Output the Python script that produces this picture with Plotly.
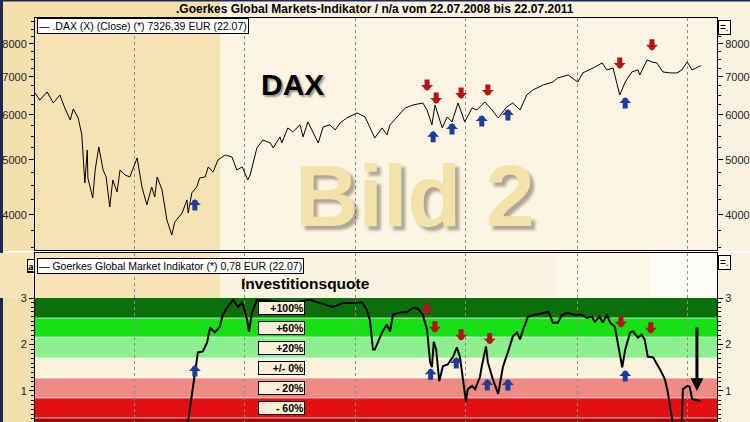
import math
import plotly.graph_objects as go

# ---------------- data ----------------
dax_dates = [
    "2008-07-22", "2008-07-30", "2008-08-11", "2008-08-21", "2008-09-01", "2008-09-09",
    "2008-09-18", "2008-09-23", "2008-10-01", "2008-10-07", "2008-10-12", "2008-10-16",
    "2008-10-17", "2008-10-25", "2008-10-29", "2008-11-04", "2008-11-11", "2008-11-16",
    "2008-11-22", "2008-11-27", "2008-12-04", "2008-12-09", "2008-12-17", "2008-12-25",
    "2009-01-06", "2009-01-14", "2009-01-22", "2009-01-30", "2009-02-04", "2009-02-08",
    "2009-02-16", "2009-02-24", "2009-03-04", "2009-03-09", "2009-03-21", "2009-03-29",
    "2009-03-31", "2009-04-06", "2009-04-14", "2009-04-19", "2009-04-28", "2009-05-03",
    "2009-05-11", "2009-05-19", "2009-05-31", "2009-06-11", "2009-06-19", "2009-06-28",
    "2009-07-07", "2009-07-11", "2009-07-22", "2009-08-01", "2009-08-13", "2009-08-18",
    "2009-08-29", "2009-09-01", "2009-09-11", "2009-09-19", "2009-10-01", "2009-10-06",
    "2009-10-14", "2009-10-22", "2009-10-31", "2009-11-08", "2009-11-19", "2009-11-28",
    "2009-12-06", "2009-12-17", "2010-01-03", "2010-01-16", "2010-01-24", "2010-02-01",
    "2010-02-13", "2010-02-21", "2010-02-26", "2010-03-10", "2010-03-23", "2010-04-05",
    "2010-04-21", "2010-04-28", "2010-05-06", "2010-05-11", "2010-05-23", "2010-05-31",
    "2010-06-08", "2010-06-18", "2010-06-29", "2010-07-11", "2010-07-19", "2010-08-01",
    "2010-08-13", "2010-08-23", "2010-09-06", "2010-09-16", "2010-09-28", "2010-10-09",
    "2010-10-19", "2010-11-05", "2010-11-21", "2010-11-29", "2010-12-16", "2011-01-01",
    "2011-01-09", "2011-01-26", "2011-02-10", "2011-02-18", "2011-02-28", "2011-03-11",
    "2011-03-20", "2011-03-31", "2011-04-10", "2011-04-13", "2011-04-25", "2011-05-03",
    "2011-05-11", "2011-05-21", "2011-06-02", "2011-06-13", "2011-06-21", "2011-06-30",
    "2011-07-08", "2011-07-22",
]
dax_values = [
    6559, 6375, 6586, 6298, 6506, 6172,
    5880, 6147, 5928, 5534, 4554, 5205,
    4647, 4286, 4801, 5270, 4801, 4666,
    4131, 4610, 4391, 4801, 4704, 4666,
    5040, 4481, 4165, 4481, 4303, 4666,
    4427, 3919, 3688, 3888, 4032, 4251,
    4032, 4374, 4481, 4647, 4666, 4859,
    4762, 4999, 5101, 5060, 4801, 4859,
    4610, 4704, 5248, 5421, 5355, 5248,
    5490, 5355, 5693, 5602, 5763, 5490,
    5833, 5602, 5355, 5716, 5763, 5647,
    5810, 5928, 6049, 5952, 5693, 5467,
    5693, 5534, 5763, 5952, 6172, 6247,
    6298, 6122, 5763, 6247, 5693, 5952,
    5833, 6298, 5833, 6172, 6122, 6323,
    6122, 5928, 6197, 6298, 6122, 6506,
    6639, 6774, 6857, 6970, 7056, 6857,
    7114, 7258, 7407, 7200, 7258, 6506,
    6857, 7143, 7200, 7056, 7497, 7437,
    7407, 7143, 7114, 7114, 7200, 7437,
    7200, 7326.39,
]

ind_dates = [
    "2008-07-22", "2009-03-27", "2009-03-31", "2009-04-11", "2009-04-16", "2009-04-24",
    "2009-05-01", "2009-05-06", "2009-05-14", "2009-05-22", "2009-05-27", "2009-06-04",
    "2009-06-13", "2009-06-21", "2009-06-28", "2009-07-06", "2009-07-09", "2009-07-14",
    "2009-07-22", "2009-08-13", "2009-09-14", "2009-10-17", "2009-11-03", "2009-11-24",
    "2009-12-11", "2009-12-27", "2010-01-11", "2010-01-19", "2010-01-24", "2010-01-29",
    "2010-02-01", "2010-02-13", "2010-02-21", "2010-02-26", "2010-03-03", "2010-03-11",
    "2010-03-26", "2010-04-05", "2010-04-13", "2010-04-21", "2010-04-28", "2010-05-03",
    "2010-05-06", "2010-05-09", "2010-05-13", "2010-05-18", "2010-05-24", "2010-06-01",
    "2010-06-10", "2010-06-16", "2010-06-21", "2010-06-26", "2010-07-01", "2010-07-04",
    "2010-07-11", "2010-07-16", "2010-07-24", "2010-07-27", "2010-08-03", "2010-08-06",
    "2010-08-14", "2010-08-23", "2010-08-31", "2010-09-08", "2010-09-16", "2010-09-23",
    "2010-09-28", "2010-10-03", "2010-10-11", "2010-10-23", "2010-11-03", "2010-11-13",
    "2010-11-16", "2010-11-21", "2010-11-29", "2010-12-06", "2010-12-16", "2010-12-27",
    "2011-01-08", "2011-01-16", "2011-01-24", "2011-01-29", "2011-02-06", "2011-02-11",
    "2011-02-18", "2011-02-23", "2011-03-03", "2011-03-08", "2011-03-15", "2011-03-20",
    "2011-03-28", "2011-04-02", "2011-04-10", "2011-04-16", "2011-04-21", "2011-04-26",
    "2011-05-05", "2011-05-16", "2011-05-24", "2011-05-29", "2011-06-05", "2011-06-10",
    "2011-06-18", "2011-06-21", "2011-06-23", "2011-06-30", "2011-07-04", "2011-07-08",
    "2011-07-22",
]
ind_values = [
    0.0, 0.0, 0.36, 1.43, 1.83, 1.85,
    2.04, 2.36, 2.26, 2.38, 2.64, 2.81,
    2.96, 2.81, 2.91, 2.53, 2.28, 2.68,
    2.96, 2.94, 2.89, 2.96, 2.89, 2.81,
    2.89, 2.89, 2.91, 2.74, 2.53, 1.89,
    1.89, 2.26, 2.43, 2.28, 2.64, 2.68,
    2.70, 2.79, 2.77, 2.64, 2.32, 1.62,
    1.51, 2.06, 1.89, 1.21, 1.53, 1.57,
    1.74, 1.94, 1.74, 1.30, 0.77, 1.04,
    1.11, 1.04, 1.30, 1.53, 1.96, 1.62,
    1.26, 0.94, 1.53, 1.83, 2.17, 2.26,
    2.11, 2.32, 2.60, 2.64, 2.68, 2.70,
    2.64, 2.47, 2.47, 2.64, 2.68, 2.64,
    2.64, 2.57, 2.60, 2.49, 2.60, 2.47,
    2.64, 2.47, 2.38, 2.04, 1.51, 1.89,
    2.26, 2.28, 2.15, 2.21, 2.11, 1.74,
    1.72, 1.47, 1.26, 0.98, 0.47, 0.0,
    0.0, 0.36, 1.04, 1.11, 1.09, 0.83,
    0.78,
]

# signal arrows (centre of each arrow)
dax_sell_dates = ["2010-04-28", "2010-05-13", "2010-06-23", "2010-08-06", "2011-03-11", "2011-05-03"]
dax_sell_values = [6774, 6425, 6559, 6639, 7407, 7975]
dax_buy_dates = ["2009-04-11", "2010-05-08", "2010-06-08", "2010-07-27", "2010-09-08", "2011-03-20"]
dax_buy_values = [4165, 5490, 5670, 5856, 5999, 6298]
ind_sell_dates = ["2010-04-28", "2010-05-11", "2010-06-23", "2010-08-09", "2011-03-13", "2011-05-01"]
ind_sell_values = [2.77, 2.38, 2.21, 2.13, 2.49, 2.36]
ind_buy_dates = ["2009-04-11", "2010-05-04", "2010-06-15", "2010-08-05", "2010-09-08", "2011-03-20"]
ind_buy_values = [1.43, 1.36, 1.60, 1.13, 1.13, 1.32]

# zones of the indicator panel
zone_edges = [3.0, 2.57, 2.16, 1.71, 1.28, 0.85, 0.42, -2.0]
zone_labels = ["+100%", "+60%", "+20%", "+/- 0%", "- 20%", "- 60%", ""]
zone_colors = ["#0b6f0b", "#16e016", "#8eef8e", "#fcf3de", "#f08a85", "#e21010", "#9c0808"]

dax_ticks = [4000, 5000, 6000, 7000, 8000]
ind_ticks = [1, 2, 3]
grid_dates = ["2009-01-01", "2009-07-01", "2010-01-01", "2010-07-01", "2011-01-01", "2011-07-01"]
x_range = ["2008-07-22", "2011-08-18"]

title_text = ".Goerkes Global Markets-Indikator / n/a vom 22.07.2008 bis 22.07.2011"
dax_legend = "— .DAX (X) (Close) (*) {} EUR (22.07)".format(f"{dax_values[-1]:.2f}".replace(".", ","))
ind_legend = "— Goerkes Global Market Indikator (*) {} EUR (22.07)".format(f"{ind_values[-1]:.2f}".replace(".", ","))

# ---------------- layout helpers ----------------
FONT = "Liberation Sans, Arial, sans-serif"
W, H = 750, 422
ML, MR, MT, MB = 35, 33, 18, 0
PW = W - ML - MR
PH = H - MT - MB


def px(p):
    return (p - ML) / PW


def py(q):
    return (H - MB - q) / PH


dax_range = [math.log10(3470), math.log10(8889)]
ind_range = [0.333, 3.968]
dax_minor = [v for v in range(3500, 9000, 250) if v % 1000]
ind_minor = [round(0.4 + 0.1 * i, 1) for i in range(27)]

fig = go.Figure()
fig.add_trace(go.Scatter(x=dax_dates, y=dax_values, mode="lines", xaxis="x", yaxis="y",
                         line=dict(color="black", width=1), hoverinfo="skip", showlegend=False))
fig.add_trace(go.Scatter(x=dax_dates, y=dax_values, mode="lines", xaxis="x", yaxis="y3",
                         line=dict(color="rgba(0,0,0,0)", width=0), hoverinfo="skip", showlegend=False))
fig.add_trace(go.Scatter(x=ind_dates, y=ind_values, mode="lines", xaxis="x2", yaxis="y2",
                         line=dict(color="black", width=2), hoverinfo="skip", showlegend=False))
fig.add_trace(go.Scatter(x=ind_dates, y=ind_values, mode="lines", xaxis="x2", yaxis="y4",
                         line=dict(color="rgba(0,0,0,0)", width=0), hoverinfo="skip", showlegend=False))

tickfont = dict(family=FONT, size=11, color="#222")
xcommon = dict(range=x_range, type="date", showticklabels=False, ticks="", tickmode="array",
               tickvals=grid_dates, showgrid=True, gridcolor="#8c8c8c", gridwidth=1,
               griddash="3px,3px", showline=True, linecolor="black", linewidth=1,
               mirror=True, zeroline=False, automargin=False)
ycommon = dict(ticks="outside", ticklen=5, tickcolor="black", tickwidth=1, showgrid=False,
               zeroline=False, tickfont=tickfont, tickmode="array", automargin=False)

shapes = []
# page background
shapes.append(dict(type="rect", xref="paper", yref="paper", x0=px(220), x1=px(W), y0=py(H), y1=py(0),
                   fillcolor="#fbf3df", line_width=0, layer="below"))
shapes.append(dict(type="rect", xref="paper", yref="paper", x0=px(0), x1=px(3), y0=py(H), y1=py(0),
                   fillcolor="#1b2a4e", line_width=0, layer="below"))
shapes.append(dict(type="rect", xref="paper", yref="paper", x0=px(0), x1=px(W), y0=py(1.5), y1=py(0),
                   fillcolor="#1b2a4e", line_width=0, layer="below"))
shapes.append(dict(type="line", xref="paper", yref="paper", x0=px(3), x1=px(W), y0=py(251.8), y1=py(251.8),
                   line=dict(color="white", width=1.5), layer="below"))
# top panel background
shapes.append(dict(type="rect", xref="x domain", yref="y domain", x0=0, x1=px(220), y0=0, y1=1,
                   fillcolor="#f6e3b4", line_width=0, layer="below"))
shapes.append(dict(type="rect", xref="x domain", yref="y domain", x0=px(220), x1=1, y0=0, y1=1,
                   fillcolor="#fcf5e3", line_width=0, layer="below"))
# bottom panel header background
for a, b, c in [(0, 220, "#f7e5b9"), (220, 555, "#fcf4e0"), (555, 650, "#fdf8ec"), (650, 717, "#fefcf7")]:
    shapes.append(dict(type="rect", xref="x2 domain", yref="y2", x0=px(a), x1=px(b), y0=3.0, y1=5.0,
                       fillcolor=c, line_width=0, layer="below"))
# zones
for i, c in enumerate(zone_colors):
    shapes.append(dict(type="rect", xref="x2 domain", yref="y2", x0=0, x1=1,
                       y0=zone_edges[i + 1], y1=zone_edges[i], fillcolor=c, line_width=0, layer="below"))
for e in zone_edges[1:-1]:
    shapes.append(dict(type="line", xref="x2 domain", yref="y2", x0=0, x1=1, y0=e, y1=e,
                       line=dict(color="rgba(255,255,255,0.7)", width=1), layer="below"))

ann = []


def label(text, xp, yp, size, **kw):
    d = dict(text=text, xref="paper", yref="paper", x=px(xp), y=py(yp), xanchor="center",
             yanchor="middle", showarrow=False, font=dict(family=FONT, size=size, color="black"))
    d.update(kw)
    return d


ann.append(label("<b>" + title_text + "</b>", 375, 8.5, 12))
ann.append(label(dax_legend, 37, 26, 10.5, xanchor="left", bgcolor="white", bordercolor="black",
                 borderwidth=1, borderpad=1))
ann.append(label(ind_legend, 37, 266, 10.5, xanchor="left", bgcolor="white", bordercolor="black",
                 borderwidth=1, borderpad=1))
ann.append(label("<b><u>a</u></b>", 30.5, 265.5, 11, bgcolor="#fbf3df", bordercolor="black",
                 borderwidth=1, borderpad=0,
                 font=dict(family="Liberation Serif, serif", size=11, color="black")))
for yy in (27, 262):
    ann.append(label("=.", 724.5, yy, 10, bgcolor="#fdf8ea", bordercolor="black", borderwidth=1,
                     borderpad=1))
ann.append(label("<b>DAX</b>", 292, 84, 30,
                 font=dict(family=FONT, size=30, color="black",
                           shadow="2px 2px 2px rgba(70,70,70,0.55)")))
ann.append(label("<b>Bild 2</b>", 415, 196, 88,
                 font=dict(family=FONT, size=88, color="#f3e2aa",
                           shadow="4px 4px 3px rgba(110,100,80,0.55)")))
ann.append(label("<b>Investitionsquote</b>", 305, 284, 15.5))
for i, lab in enumerate(zone_labels):
    if not lab:
        continue
    mid = (zone_edges[i] + zone_edges[i + 1]) / 2
    ann.append(dict(text="<b>" + lab + "</b>", xref="x2 domain", yref="y2", x=px(281.5), y=mid,
                    xanchor="center", yanchor="middle",
                    showarrow=False, width=45, height=12, align="right", bgcolor="#fbf0d6",
                    bordercolor="black", borderwidth=1, borderpad=0,
                    font=dict(family=FONT, size=10.5, color="black")))

RED, BLUE = "#b31217", "#1e3d96"


def arrow(xv, yv, yref, color, down):
    return dict(x=xv, y=yv, xref="x" if yref == "y" else "x2", yref=yref, text="", showarrow=True,
                arrowhead=1, arrowwidth=5, arrowsize=0.4, arrowcolor=color, ax=0,
                ay=-13 if down else 13, yshift=-6 if down else 6, standoff=0)


for d, v in zip(dax_sell_dates, dax_sell_values):
    ann.append(arrow(d, math.log10(v), "y", RED, True))
for d, v in zip(dax_buy_dates, dax_buy_values):
    ann.append(arrow(d, math.log10(v), "y", BLUE, False))
for d, v in zip(ind_sell_dates, ind_sell_values):
    ann.append(arrow(d, v, "y2", RED, True))
for d, v in zip(ind_buy_dates, ind_buy_values):
    ann.append(arrow(d, v, "y2", BLUE, False))
ann.append(dict(x="2011-07-16", y=1.0, xref="x2", yref="y2", text="", showarrow=True, arrowhead=2,
                arrowwidth=3, arrowsize=0.85, arrowcolor="black", ax=0, ay=-65, standoff=0))

fig.update_layout(
    width=W, height=H, margin=dict(l=ML, r=MR, t=MT, b=MB, pad=0, autoexpand=False),
    paper_bgcolor="#f4dfae", plot_bgcolor="rgba(0,0,0,0)", showlegend=False,
    xaxis=dict(domain=[0, 1], anchor="y", **xcommon),
    xaxis2=dict(domain=[0, 1], anchor="y2", matches="x", **xcommon),
    yaxis=dict(domain=[py(250), 1], anchor="x", type="log", range=dax_range, tickvals=dax_ticks,
               ticktext=[str(t) for t in dax_ticks], showline=True, linecolor="black", mirror=True,
               minor=dict(tickvals=dax_minor, ticks="outside", ticklen=3, tickcolor="black", showgrid=False),
               **ycommon),
    yaxis3=dict(overlaying="y", anchor="x", side="right", type="log", range=dax_range, tickvals=dax_ticks,
                ticktext=[str(t) for t in dax_ticks], showline=False,
                minor=dict(tickvals=dax_minor, ticks="outside", ticklen=3, tickcolor="black", showgrid=False),
                **ycommon),
    yaxis2=dict(domain=[0, py(253)], anchor="x2", range=ind_range, tickvals=ind_ticks,
                ticktext=[str(t) for t in ind_ticks], showline=True, linecolor="black", mirror=True,
                minor=dict(tickvals=ind_minor, ticks="outside", ticklen=3, tickcolor="black", showgrid=False),
                **ycommon),
    yaxis4=dict(overlaying="y2", anchor="x2", side="right", range=ind_range, tickvals=ind_ticks,
                ticktext=[str(t) for t in ind_ticks], showline=False,
                minor=dict(tickvals=ind_minor, ticks="outside", ticklen=3, tickcolor="black", showgrid=False),
                **ycommon),
    shapes=shapes, annotations=ann,
)

fig.write_html("out.html", config={"displayModeBar": False},
               post_script="document.body.style.margin='0';document.body.style.padding='0';")
